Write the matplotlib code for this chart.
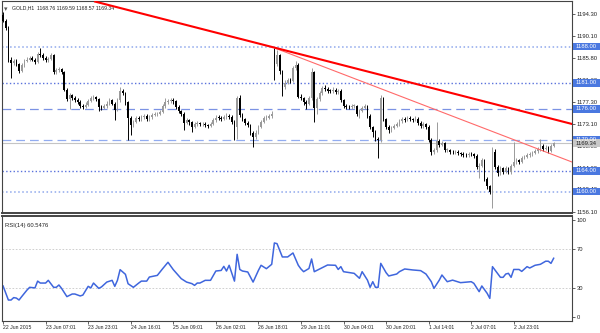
import matplotlib
matplotlib.use("Agg")
import matplotlib.pyplot as plt
import matplotlib.transforms as mtransforms
from matplotlib.patches import Rectangle

plt.rcParams['font.family'] = ['Liberation Sans', 'DejaVu Sans']

# ---- data (GOLD H1) ----
closes = [
    1193.0, 1191.6, 1185.4, 1184.9, 1185.3, 1184.6, 1183.3, 1184.4, 1185.3, 1185.5,
    1185.8, 1185.5, 1185.0, 1186.6, 1186.4, 1185.8, 1185.4, 1185.7, 1186.3, 1183.1,
    1183.4, 1183.6, 1183.0, 1179.7, 1177.9, 1178.6, 1178.0, 1177.7, 1177.3, 1176.6,
    1176.4, 1176.8, 1177.5, 1178.0, 1178.2, 1177.8, 1176.3, 1176.2, 1176.5, 1177.0,
    1177.6, 1177.0, 1175.8, 1177.6, 1179.4, 1179.0, 1177.2, 1174.3, 1172.8, 1173.5,
    1174.2, 1174.0, 1174.4, 1174.6, 1174.0, 1174.4, 1174.8, 1174.9, 1175.0, 1175.4,
    1176.5, 1177.2, 1177.5, 1177.6, 1177.4, 1176.4, 1175.5, 1175.0, 1173.3, 1173.8,
    1173.4, 1172.5, 1173.0, 1173.2, 1173.0, 1173.1, 1172.8, 1172.7, 1173.0, 1173.8,
    1174.3, 1174.2, 1174.1, 1174.4, 1174.6, 1174.4, 1173.5, 1172.4, 1178.0, 1174.8,
    1174.0, 1173.3, 1172.8, 1171.4, 1170.5, 1171.4, 1172.5, 1173.5, 1174.2, 1174.3,
    1174.5, 1175.0, 1184.6, 1186.3, 1183.2, 1180.2, 1181.0, 1181.5, 1181.4, 1183.8,
    1184.5, 1178.3, 1178.0, 1177.2, 1177.0, 1178.0, 1183.0, 1176.2, 1177.8, 1179.0,
    1180.0, 1179.8, 1179.5, 1179.4, 1179.7, 1179.2, 1179.5, 1177.6, 1176.6, 1176.4,
    1176.3, 1176.5, 1176.5, 1175.0, 1175.6, 1176.2, 1176.5, 1174.6, 1172.4, 1171.5,
    1170.2, 1169.9, 1178.0, 1174.0, 1172.5, 1171.8, 1172.3, 1172.7, 1173.0, 1173.6,
    1174.0, 1173.9, 1174.1, 1174.0, 1173.9, 1174.1, 1173.3, 1172.6, 1173.0, 1172.5,
    1170.0, 1167.6, 1168.0, 1169.7, 1169.0, 1169.3, 1168.0, 1168.0, 1167.7, 1167.6,
    1167.7, 1167.4, 1167.3, 1167.1, 1167.0, 1167.3, 1167.2, 1166.9, 1164.8, 1165.0,
    1166.0, 1162.5, 1161.0, 1160.0, 1167.6, 1164.8, 1163.5, 1164.5, 1163.8, 1164.5,
    1163.7, 1165.0, 1165.8, 1166.0, 1165.8, 1166.5, 1166.7, 1167.0, 1167.2, 1167.5,
    1167.8, 1168.2, 1168.8, 1168.3, 1168.5, 1167.8, 1168.76, 1169.34,
]
highs = [
    1194.6, 1193.4, 1191.9, 1185.9, 1185.7, 1185.6, 1184.9, 1184.8, 1185.7, 1185.9,
    1186.2, 1186.1, 1185.8, 1187.0, 1187.7, 1186.7, 1186.1, 1186.0, 1186.8, 1186.6,
    1183.8, 1184.0, 1183.9, 1183.3, 1180.0, 1179.0, 1178.9, 1178.4, 1178.0, 1177.6,
    1176.9, 1177.2, 1177.9, 1178.4, 1178.6, 1178.5, 1178.1, 1176.7, 1176.9, 1177.4,
    1178.0, 1177.9, 1177.3, 1178.0, 1180.2, 1179.8, 1179.3, 1177.5, 1174.6, 1173.9,
    1174.6, 1174.6, 1174.8, 1175.0, 1174.9, 1174.8, 1175.2, 1175.3, 1175.4, 1175.8,
    1176.9, 1178.0, 1177.9, 1178.0, 1178.0, 1177.7, 1176.7, 1175.8, 1175.3, 1174.2,
    1174.1, 1173.7, 1173.4, 1173.6, 1173.5, 1173.5, 1173.4, 1173.1, 1173.4, 1174.2,
    1174.7, 1174.7, 1174.5, 1174.8, 1175.1, 1175.0, 1174.7, 1173.8, 1178.5, 1178.6,
    1175.2, 1174.3, 1173.6, 1173.1, 1171.7, 1171.8, 1172.9, 1173.9, 1174.6, 1174.7,
    1174.9, 1175.5, 1187.8, 1187.3, 1186.6, 1183.5, 1181.5, 1182.0, 1181.9, 1184.2,
    1185.2, 1184.8, 1178.9, 1178.3, 1177.6, 1178.4, 1183.9, 1183.3, 1178.2, 1179.4,
    1180.4, 1180.5, 1180.1, 1179.8, 1180.1, 1180.0, 1179.9, 1179.8, 1177.9, 1176.9,
    1176.8, 1176.9, 1176.9, 1176.8, 1176.0, 1176.6, 1176.9, 1176.8, 1174.9, 1172.7,
    1171.8, 1170.6, 1178.6, 1178.3, 1174.3, 1172.8, 1172.7, 1173.1, 1173.4, 1174.0,
    1174.4, 1174.4, 1174.5, 1174.5, 1174.3, 1174.5, 1174.4, 1173.6, 1173.4, 1173.3,
    1172.8, 1170.3, 1168.5, 1173.4, 1170.1, 1169.7, 1169.6, 1168.4, 1168.3, 1168.0,
    1168.0, 1168.0, 1167.7, 1167.6, 1167.5, 1167.7, 1167.6, 1167.5, 1167.2, 1165.5,
    1166.5, 1166.3, 1162.8, 1161.3, 1168.6, 1168.2, 1165.1, 1164.9, 1164.8, 1164.9,
    1164.8, 1165.4, 1169.6, 1166.4, 1166.3, 1166.9, 1167.1, 1167.4, 1167.6, 1167.9,
    1168.2, 1168.6, 1170.2, 1169.1, 1168.9, 1168.8, 1169.1, 1169.59,
]
lows = [
    1192.8, 1191.2, 1185.0, 1182.0, 1184.5, 1184.2, 1182.9, 1183.0, 1184.1, 1185.0,
    1185.2, 1185.2, 1184.7, 1184.8, 1186.0, 1185.4, 1185.0, 1185.1, 1185.4, 1182.8,
    1182.8, 1183.1, 1182.7, 1179.4, 1177.5, 1176.0, 1177.6, 1177.3, 1176.9, 1176.2,
    1176.0, 1176.1, 1176.5, 1177.2, 1177.7, 1177.4, 1175.6, 1175.8, 1175.9, 1176.2,
    1176.7, 1176.7, 1173.8, 1175.5, 1177.3, 1178.6, 1176.8, 1170.0, 1171.0, 1172.4,
    1173.2, 1173.6, 1173.7, 1174.1, 1173.6, 1173.7, 1174.1, 1174.5, 1174.6, 1174.7,
    1175.1, 1176.2, 1176.9, 1177.1, 1177.0, 1176.0, 1175.1, 1174.5, 1171.9, 1173.0,
    1172.9, 1171.5, 1172.2, 1172.7, 1172.6, 1172.6, 1172.4, 1172.3, 1172.4, 1172.8,
    1173.5, 1173.8, 1173.7, 1173.8, 1174.1, 1174.0, 1173.1, 1170.0, 1170.2, 1174.4,
    1173.6, 1172.9, 1172.4, 1171.0, 1168.6, 1170.1, 1171.1, 1172.2, 1173.2, 1173.9,
    1174.0, 1174.2, 1181.5, 1184.2, 1182.8, 1178.4, 1179.8, 1180.7, 1181.0, 1181.1,
    1183.4, 1178.0, 1177.6, 1176.8, 1176.0, 1176.7, 1177.7, 1173.4, 1175.0, 1177.5,
    1178.7, 1179.4, 1179.1, 1179.0, 1179.1, 1178.8, 1178.9, 1177.2, 1176.2, 1176.0,
    1175.9, 1176.0, 1176.1, 1174.6, 1174.2, 1175.3, 1175.9, 1174.2, 1172.0, 1170.6,
    1169.8, 1166.5, 1169.6, 1173.6, 1172.1, 1171.3, 1171.5, 1172.0, 1172.4, 1172.7,
    1173.3, 1173.5, 1173.6, 1173.6, 1173.5, 1173.6, 1172.9, 1172.2, 1172.3, 1172.1,
    1169.6, 1167.0, 1167.2, 1167.7, 1168.6, 1168.7, 1167.6, 1167.6, 1167.3, 1167.2,
    1167.3, 1167.0, 1166.9, 1166.7, 1166.6, 1166.7, 1166.8, 1166.5, 1164.4, 1162.6,
    1164.7, 1162.1, 1160.5, 1159.5, 1156.8, 1164.4, 1163.0, 1163.2, 1163.4, 1163.5,
    1163.3, 1163.4, 1164.7, 1165.4, 1165.4, 1165.5, 1166.2, 1166.4, 1166.7, 1166.9,
    1167.2, 1167.5, 1167.9, 1167.9, 1168.0, 1167.5, 1167.6, 1168.57,
]
first_open = 1194.2
gap_opens = {102: 1186.8}   # Monday open after the weekend gap

rsi_bar = [0, 2, 3, 4, 5, 6, 7, 9, 10, 12, 13, 14, 16, 17, 19, 20, 21, 22, 24, 26,
           27, 29, 30, 32, 33, 34, 36, 37, 39, 41, 42, 43, 44, 46, 47, 49, 51, 52, 54, 55,
           58, 60, 62, 64, 67, 69, 71, 72, 73, 74, 76, 78, 80, 82, 83, 84, 85, 87, 88, 89,
           90, 92, 94, 96, 97, 99, 101, 102, 103, 105, 107, 109, 111, 112, 113, 115, 116, 117, 119, 122,
           125, 126, 127, 128, 132, 134, 135, 137, 138, 139, 140, 141, 142, 144, 145, 148, 149, 151, 154, 157,
           159, 161, 162, 164, 165, 167, 169, 172, 176, 177, 179, 180, 182, 183, 184, 187, 188, 189, 190, 191,
           192, 194, 195, 197, 198, 200, 202, 204, 205, 206, 207]
rsi_val = [32.0, 17.5, 17.5, 20.0, 19.5, 17.5, 21.0, 27.8, 30.6, 30.0, 37.0, 35.0, 35.0, 37.8, 30.6, 30.6, 33.0, 29.5, 21.0, 23.7,
           23.7, 21.7, 22.6, 31.6, 30.0, 35.0, 29.5, 31.0, 36.0, 37.8, 31.6, 37.8, 48.8, 44.0, 34.3, 30.6, 35.0, 37.0, 37.0, 41.2,
           42.9, 49.8, 56.4, 48.8, 39.5, 36.0, 34.4, 32.6, 35.0, 35.0, 37.8, 37.8, 47.4, 48.0, 52.2, 47.4, 53.3, 37.0, 64.6, 49.0,
           47.4, 46.4, 36.0, 48.0, 53.3, 49.8, 54.3, 76.3, 75.6, 61.9, 61.9, 66.0, 53.3, 49.5, 46.7, 50.0, 59.8, 46.7, 49.5, 53.6,
           53.3, 49.0, 51.9, 46.7, 45.0, 39.9, 46.7, 38.0, 30.6, 36.4, 30.6, 30.6, 55.3, 45.7, 42.3, 44.3, 46.7, 49.5, 48.5, 47.8,
           44.3, 36.4, 29.5, 38.0, 43.3, 36.4, 38.0, 35.4, 36.4, 34.7, 26.1, 32.0, 24.4, 19.2, 51.9, 40.9, 40.9, 44.3, 45.0, 40.9,
           49.0, 49.0, 47.0, 51.9, 50.5, 53.3, 54.3, 57.5, 57.5, 55.3, 60.55]

level_prices = [1188.00, 1181.00, 1176.00, 1170.00, 1164.00, 1160.00]
trend_thick = ([34.6, 213.9], [1196.7, 1173.05])
trend_thin = ([102.3, 213.9], [1187.7, 1165.7])
price_ticks = [1156.10, 1160.40, 1164.60, 1168.80, 1173.10, 1177.30, 1181.60, 1185.80, 1190.10, 1194.30]
time_ticks = [0, 16, 32, 48, 64, 80, 96, 112, 128, 144, 160, 176, 192]
time_labels = ["22 Jun 2015", "23 Jun 07:01", "23 Jun 23:01", "24 Jun 16:01", "25 Jun 09:01",
               "26 Jun 02:01", "26 Jun 18:01", "29 Jun 11:01", "30 Jun 04:01", "30 Jun 20:01",
               "1 Jul 14:01", "2 Jul 07:01", "2 Jul 23:01"]
last_ohlc = (1168.76, 1169.59, 1168.57, 1169.34)

opens = [first_open] + closes[:-1]
for k, v in gap_opens.items():
    opens[k] = v

FS_AX = 4.2     # price scale
FS_T = 3.7      # title / time labels
fig = plt.figure(figsize=(6.0, 3.33), dpi=100)
ax = fig.add_axes([2/600, 1-213/333, 570/600, 212/333])
ax2 = fig.add_axes([2/600, 1-320.5/333, 570/600, (320.5-216)/333])

# candles
for i in range(len(closes)):
    o, c = opens[i], closes[i]
    col = '#9a9a9a' if c >= o else '#000000'
    ax.vlines(i, lows[i], highs[i], color=col, lw=0.7, zorder=3)
    h = abs(c - o) if abs(c - o) > 0.12 else 0.12
    ax.bar(i, h, bottom=min(o, c), width=0.62, color=col, lw=0, zorder=3)

# horizontal levels
level_style = {1188.00: (':', '#8fa8ec', 1.1), 1181.00: (':', '#5a72dc', 1.0),
               1176.00: ((0, (7, 4)), '#7b92e4', 0.9), 1170.00: ((0, (7, 4)), '#92acf0', 0.9),
               1164.00: (':', '#5a72dc', 1.0), 1160.00: (':', '#8fa8ec', 1.1)}
for p in level_prices:
    ls, col, lw = level_style[p]
    ax.axhline(p, ls=ls, color=col, lw=lw, zorder=2)

# bid line
ax.axhline(last_ohlc[3], color='#c4c4c4', lw=0.8, zorder=1)

# trend lines
ax.plot(trend_thin[0], trend_thin[1], color='#ff6a6a', lw=0.8, zorder=4)
ax.plot(trend_thick[0], trend_thick[1], color='#ff0000', lw=1.5, zorder=4)

ax.set_xlim(-0.4, 213.9)
ax.set_ylim(1155.85, 1196.81)
ax.set_xticks([])
ax.yaxis.tick_right()
ax.set_yticks(price_ticks)
ax.set_yticklabels(['%.2f' % t for t in price_ticks])
ax.tick_params(axis='y', direction='out', length=2, width=0.5, labelsize=FS_AX, pad=1.5, colors='#222222')

# boxed level labels on the price scale
trans = mtransforms.blended_transform_factory(fig.transFigure, ax.transData)
x0 = 573/600
for p in level_prices:
    ax.add_artist(Rectangle((x0, p - 0.75), 27/600, 1.5, transform=trans,
                            facecolor='#4a78e0', edgecolor='none', clip_on=False, zorder=10))
    ax.text(x0 + 2.5/600, p, '%.2f' % p, transform=trans, color='white', fontsize=FS_AX,
            ha='left', va='center', clip_on=False, zorder=11)
ax.add_artist(Rectangle((x0, last_ohlc[3] - 0.75), 27/600, 1.5, transform=trans,
                        facecolor='#c8c8c8', edgecolor='none', clip_on=False, zorder=10))
ax.text(x0 + 2.5/600, last_ohlc[3], '%.2f' % last_ohlc[3], transform=trans, color='#222222',
        fontsize=FS_AX, ha='left', va='center', clip_on=False, zorder=11)

ax.text(1.5/570, 0.978, u'\u25BE', transform=ax.transAxes, fontsize=5, color='#555555', va='top')
ax.text(10/570, 0.982, 'GOLD,H1  %.2f %.2f %.2f %.2f' % last_ohlc, transform=ax.transAxes,
        fontsize=FS_T, color='#222222', va='top')

# RSI panel
ax2.axhline(70, color='#c8c8c8', ls=(0, (2, 2)), lw=0.6)
ax2.axhline(30, color='#c8c8c8', ls=(0, (2, 2)), lw=0.6)
ax2.plot(rsi_bar, rsi_val, color='#3f66dd', lw=1.1)
ax2.set_xlim(-0.4, 213.9)
ax2.set_ylim(-3.6, 104.1)
ax2.yaxis.tick_right()
ax2.set_yticks([0, 30, 70, 100])
ax2.set_yticklabels(['0', '30', '70', '100'])
ax2.tick_params(axis='y', direction='out', length=2, width=0.5, labelsize=FS_AX, pad=1.5, colors='#222222')
ax2.set_xticks(time_ticks)
ax2.set_xticklabels(time_labels, ha='left')
ax2.tick_params(axis='x', direction='out', length=2, width=0.5, labelsize=FS_T, pad=1.5, colors='#222222')
ax2.text(3/570, 0.93, 'RSI(14) 60.5476', transform=ax2.transAxes, fontsize=4.2, color='#222222', va='top')

for a in (ax, ax2):
    for s in a.spines.values():
        s.set_color('#444444')
        s.set_linewidth(0.8)
ax.spines['bottom'].set_linewidth(1.4)
ax2.spines['top'].set_linewidth(1.4)

fig.savefig('out.png', dpi=100)
